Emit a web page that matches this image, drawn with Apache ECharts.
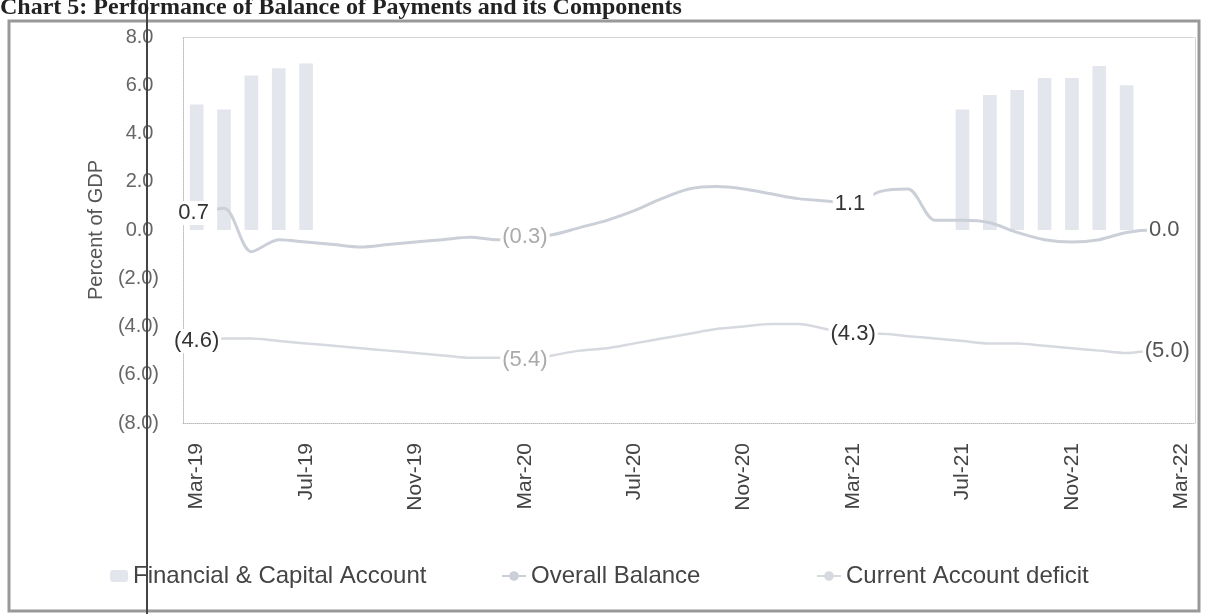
<!DOCTYPE html>
<html><head><meta charset="utf-8">
<script src="https://cdn.jsdelivr.net/npm/echarts@6/dist/echarts.min.js"></script>
<style>html,body{margin:0;padding:0;background:#fff}#c{width:1206px;height:614px}</style>
</head><body><div id="c"></div>
<script>
const titleText = 'Chart 5: Performance of Balance of Payments and its Components';
const yAxisName = 'Percent of GDP';
const months = ['Mar-19','Apr-19','May-19','Jun-19','Jul-19','Aug-19','Sep-19','Oct-19','Nov-19','Dec-19','Jan-20','Feb-20',
  'Mar-20','Apr-20','May-20','Jun-20','Jul-20','Aug-20','Sep-20','Oct-20','Nov-20','Dec-20','Jan-21','Feb-21',
  'Mar-21','Apr-21','May-21','Jun-21','Jul-21','Aug-21','Sep-21','Oct-21','Nov-21','Dec-21','Jan-22','Feb-22',
  'Mar-22'];
const financialCapital = [5.2,5.0,6.4,6.7,6.9,null,null,null,null,null,null,null,
  null,null,null,null,null,null,null,null,null,null,null,null,
  null,null,null,null,5.0,5.6,5.8,6.3,6.3,6.8,6.0,null,
  null];
const overallBalance = [0.7,0.9,-0.9,-0.4,-0.5,-0.6,-0.7,-0.6,-0.5,-0.4,-0.3,-0.4,
  -0.3,-0.2,0.1,0.4,0.8,1.3,1.7,1.8,1.7,1.5,1.3,1.2,
  1.1,1.6,1.7,0.4,0.4,0.3,-0.1,-0.4,-0.5,-0.4,-0.1,0.0,
  0.0];
const currentAccount = [-4.6,-4.5,-4.5,-4.6,-4.7,-4.8,-4.9,-5.0,-5.1,-5.2,-5.3,-5.3,
  -5.4,-5.2,-5.0,-4.9,-4.7,-4.5,-4.3,-4.1,-4.0,-3.9,-3.9,-4.1,
  -4.3,-4.3,-4.4,-4.5,-4.6,-4.7,-4.7,-4.8,-4.9,-5.0,-5.1,-5.0,
  -5.0];
const labelledIdx = [0,12,24,36];
const seriesNames = ['Financial & Capital Account','Overall Balance','Current Account deficit'];

const labelTone = {0:'#333', 12:'#aaa', 24:'#333', 36:'#555'};
const labelShift = {0:[0,0], 12:[0,0], 24:[0,0], 36:[-14,0]};
function fmt(v){ return v < 0 ? '(' + Math.abs(v).toFixed(1) + ')' : v.toFixed(1) + ' '; }
function withLabels(arr){
  return arr.map((v,i)=> labelledIdx.includes(i) ? {value:v, label:{show:true, color:labelTone[i], offset:labelShift[i]}} : v);
}

const chart = echarts.init(document.getElementById('c'));
const FONT = '"Liberation Sans", Arial, sans-serif';
const lbl = {show:false, position:'inside', formatter:p=>fmt(p.value), fontFamily:FONT, fontSize:22, color:'#444', backgroundColor:'#fff', padding:[1,2]};
const legendText = {fontFamily:FONT, fontSize:24, color:'#444'};
chart.setOption({
  animation:false,
  backgroundColor:'#fff',
  grid:{left:183, top:37, right:11, bottom:191, containLabel:false},
  legend:[
    {bottom:21, left:105, itemWidth:18, itemHeight:12, textStyle:legendText, data:[seriesNames[0]]},
    {bottom:21, left:496, itemWidth:24, itemHeight:12, textStyle:legendText, data:[seriesNames[1]]},
    {bottom:21, left:811, itemWidth:24, itemHeight:12, textStyle:legendText, data:[seriesNames[2]]}
  ],
  xAxis:[{type:'category', data:months, boundaryGap:true,
    axisLine:{onZero:false, lineStyle:{color:'#bbb', type:'dotted'}}, axisTick:{show:false},
    axisLabel:{interval:3, rotate:90, margin:20, fontFamily:FONT, fontSize:21, color:'#444'}},
   {type:'category', data:months, position:'top', axisLine:{onZero:false, lineStyle:{color:'#ccc', type:'dotted'}}, axisTick:{show:false}, axisLabel:{show:false}}],
  yAxis:[{type:'value', min:-8, max:8, interval:2,
    axisLine:{show:true, lineStyle:{color:'#bbb', type:'dotted'}}, axisTick:{show:false}, splitLine:{show:false},
    axisLabel:{margin:24, formatter:fmt, fontFamily:FONT, fontSize:20, color:'#666'},
    name:yAxisName, nameLocation:'middle', nameGap:76, nameRotate:90,
    nameTextStyle:{fontFamily:FONT, fontSize:20, color:'#555'}},
   {type:'value', min:-8, max:8, interval:2, position:'right', axisLine:{show:true, lineStyle:{color:'#ccc', type:'dotted'}}, axisTick:{show:false}, axisLabel:{show:false}, splitLine:{show:false}}],
  series:[
    {name:seriesNames[0], type:'bar', data:financialCapital, barWidth:'50%', itemStyle:{color:'#e3e6ec'}},
    {name:seriesNames[1], type:'line', data:withLabels(overallBalance), symbol:'circle', symbolSize:1, showAllSymbol:true, smooth:0.3, lineStyle:{color:'#cbd0d8', width:3}, itemStyle:{color:'#cbd0d8'}, label:lbl, z:3},
    {name:seriesNames[2], type:'line', data:withLabels(currentAccount), symbol:'circle', symbolSize:1, showAllSymbol:true, smooth:0.3, lineStyle:{color:'#d6d9df', width:2.5}, itemStyle:{color:'#d6d9df'}, label:lbl, z:3}
  ],
  graphic:[
    {type:'rect', shape:{x:9, y:21, width:1190, height:590}, style:{fill:'none', stroke:'#999', lineWidth:3}, silent:true},
    {type:'line', shape:{x1:147, y1:0, x2:147, y2:614}, style:{stroke:'#444', lineWidth:2}, silent:true, z:10},
    {type:'text', left:0, top:-4, style:{text:titleText, font:'bold 24px "Liberation Serif", "Times New Roman", serif', fill:'#222'}, silent:true, z:10}
  ]
});
</script></body></html>
